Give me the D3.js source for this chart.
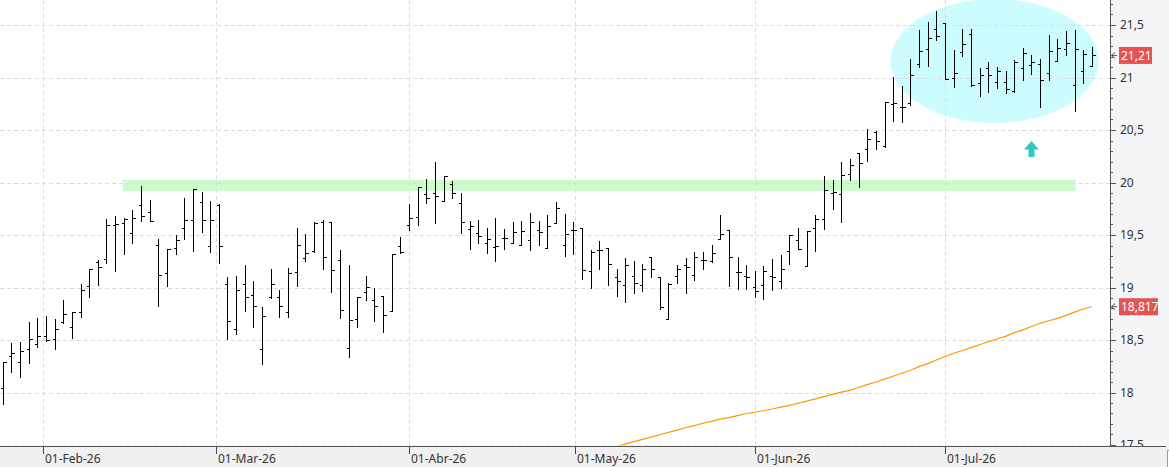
<!DOCTYPE html>
<html><head><meta charset="utf-8">
<script src="https://cdn.jsdelivr.net/npm/d3@7/dist/d3.min.js"></script>
<style>
html,body{margin:0;padding:0;background:#fff;}
svg{display:block;font-family:"Noto Sans","Segoe UI",sans-serif;}
</style></head>
<body>
<svg id="chart" width="1169" height="467"></svg>
<script>
// ---- data ----
const firstDay = "2026-01-26";
const holidays = ["2026-04-03","2026-04-06","2026-05-01"];
const barCount = 127;
const openVals = [18.04,18.348,18.287,18.411,18.462,18.538,18.506,18.668,18.624,18.763,
19.011,19.24,19.268,19.595,19.614,19.519,19.786,19.716,19.402,19.135,
19.373,19.563,19.64,19.814,19.392,19.789,19.03,18.602,19.03,18.925,
18.411,18.909,18.909,18.763,19.148,19.278,19.348,19.627,19.621,19.262,
18.421,18.697,18.954,18.878,18.919,18.779,19.395,19.595,19.668,19.89,
19.9,19.827,19.982,19.802,19.554,19.522,19.427,19.383,19.471,19.424,
19.405,19.449,19.544,19.373,19.611,19.405,19.544,19.563,19.157,19.357,
19.376,19.097,19.024,19.11,19.024,19.287,19.097,18.697,19.11,19.217,
19.116,19.262,19.255,19.459,19.544,19.144,19.106,19.002,19.024,19.106,
19.062,19.348,19.449,19.208,19.563,19.649,19.897,19.89,20.081,20.278,
20.316,20.484,20.351,20.744,20.716,20.76,21.125,21.268,21.459,21.522,
20.992,21.24,21.411,20.944,21.087,20.957,20.957,20.875,21.087,21.116,
21.129,21.043,21.154,21.271,20.925,21.062,21.106];
const highVals = [18.288,18.468,18.481,18.668,18.709,18.728,18.70,18.881,18.763,19.033,
19.173,19.262,19.652,19.681,19.659,19.738,19.967,19.833,19.462,19.367,
19.50,19.852,19.935,19.906,19.821,19.792,19.097,19.11,19.211,19.062,
18.814,19.176,18.976,19.186,19.567,19.509,19.621,19.64,19.621,19.357,
19.214,18.909,19.11,19.0,18.919,19.316,19.481,19.795,19.96,20.03,
20.195,20.062,20.014,19.897,19.633,19.643,19.57,19.662,19.557,19.624,
19.63,19.706,19.63,19.69,19.814,19.703,19.624,19.563,19.357,19.44,
19.376,19.176,19.278,19.252,19.227,19.287,19.097,19.046,19.214,19.278,
19.338,19.338,19.402,19.69,19.544,19.294,19.211,19.16,19.208,19.268,
19.31,19.497,19.567,19.541,19.69,20.062,20.024,20.192,20.221,20.278,
20.51,20.494,20.763,21.002,20.919,21.173,21.452,21.525,21.633,21.522,
21.262,21.462,21.459,21.09,21.144,21.10,21.062,21.163,21.278,21.211,
21.176,21.405,21.367,21.44,21.452,21.262,21.29];
const lowVals = [17.89,18.198,18.144,18.278,18.437,18.494,18.417,18.665,18.522,18.722,
18.913,19.024,19.236,19.16,19.319,19.427,19.636,19.636,18.827,19.014,
19.319,19.465,19.351,19.532,19.341,19.236,18.513,18.554,18.779,18.627,
18.275,18.897,18.722,18.719,19.014,19.256,19.341,19.179,18.96,18.713,
18.341,18.627,18.884,18.684,18.579,18.773,19.325,19.548,19.595,19.802,
19.611,19.827,19.855,19.522,19.367,19.421,19.325,19.256,19.37,19.421,
19.402,19.357,19.408,19.373,19.611,19.30,19.322,19.078,18.998,19.173,
19.027,18.922,18.865,18.944,18.97,19.103,18.798,18.697,19.046,18.951,
19.071,19.173,19.246,19.459,19.017,18.982,18.986,18.906,18.887,18.976,
18.998,19.224,19.363,19.208,19.351,19.554,19.751,19.627,20.024,19.96,
20.205,20.322,20.341,20.589,20.579,20.741,21.103,21.113,21.357,20.989,
20.913,21.208,20.916,20.827,20.862,20.897,20.855,20.862,20.979,21.033,
20.722,20.973,21.154,21.214,20.678,20.944,21.106];
const closeVals = [18.288,18.376,18.392,18.506,18.538,18.503,18.601,18.744,18.763,18.976,
19.173,19.192,19.595,19.602,19.652,19.659,19.681,19.636,19.116,19.367,
19.452,19.64,19.935,19.64,19.64,19.392,18.678,18.976,18.909,18.824,
18.728,19.03,18.821,19.135,19.402,19.332,19.611,19.287,19.167,18.783,
18.687,18.909,19.005,18.824,18.735,19.316,19.335,19.659,19.954,19.849,
19.871,20.062,19.903,19.621,19.586,19.49,19.462,19.395,19.471,19.529,
19.541,19.624,19.529,19.586,19.757,19.506,19.548,19.167,19.335,19.357,
19.221,19.059,19.211,19.043,19.176,19.176,18.814,19.03,19.176,19.198,
19.287,19.262,19.329,19.513,19.287,19.144,19.10,18.97,19.16,19.097,
19.173,19.497,19.363,19.535,19.649,19.925,19.906,20.071,20.167,20.183,
20.414,20.398,20.763,20.754,20.716,21.021,21.249,21.379,21.395,20.989,
21.043,21.319,20.925,21.021,21.021,21.059,20.89,21.148,21.236,21.148,
20.973,21.249,21.278,21.325,21.271,21.221,21.21];
// moving average, first value belongs to bar index maStart
const maStart = 70;
const maVals = [17.47,17.485,17.508,17.532,17.554,17.575,17.598,17.62,17.642,17.664,
17.685,17.707,17.725,17.746,17.76,17.78,17.8,17.812,17.826,17.843,
17.86,17.878,17.898,17.918,17.939,17.96,17.982,18.004,18.02,18.048,
18.075,18.1,18.128,18.155,18.183,18.212,18.246,18.275,18.309,18.343,
18.374,18.4,18.428,18.455,18.483,18.51,18.535,18.57,18.597,18.628,
18.659,18.683,18.706,18.734,18.766,18.795,18.817];
const monthTicks = ["2026-02-01","2026-03-01","2026-04-01","2026-05-01","2026-06-01","2026-07-01"];
const monthLabels = ["01-Feb-26","01-Mar-26","01-Abr-26","01-May-26","01-Jun-26","01-Jul-26"];
const yTickVals = [17.5,18,18.5,19,19.5,20,20.5,21,21.5];
const yTickLabels = ["17,5","18","18,5","19","19,5","20","20,5","21","21,5"];
const lastClose = 21.21, lastCloseLabel = "21,21";
const lastMA = 18.817, lastMALabel = "18,817";
const supportLevel = [19.92, 20.025];

// ---- trading calendar ----
const parse = d3.utcParse("%Y-%m-%d");
const fmt = d3.utcFormat("%Y-%m-%d");
const dates = [];
let d = parse(firstDay);
while (dates.length < barCount) {
  const wd = d.getUTCDay();
  if (wd !== 0 && wd !== 6 && !holidays.includes(fmt(d))) dates.push(new Date(d));
  d = d3.utcDay.offset(d, 1);
}
function datePos(m) {
  const t = parse(m);
  let b = dates.findIndex(x => x >= t);
  if (b <= 0) return b;
  if (+dates[b] === +t) return b;
  const a = b - 1;
  return a + (t - dates[a]) / (dates[b] - dates[a]);
}

// ---- layout ----
const W = 1169, H = 467;
const plotR = 1110, plotB = 445;
const svg = d3.select("#chart");
const x = d3.scaleLinear().domain([0, barCount - 1]).range([2.7, 1092]);
const y = d3.scaleLinear().domain([17.5, 21.5]).range([445, 25]);

svg.append("rect").attr("x",0).attr("y",0).attr("width",W).attr("height",H).attr("fill","#fff");
svg.append("rect").attr("x",plotR).attr("y",0).attr("width",W-plotR).attr("height",H).attr("fill","#f4f5f7");
svg.append("defs").append("clipPath").attr("id","clip")
  .append("rect").attr("x",0).attr("y",0).attr("width",plotR).attr("height",plotB+0.5);

const plot = svg.append("g").attr("clip-path","url(#clip)");

// support band
plot.append("rect")
  .attr("x", x(13.9)).attr("width", x(124.1) - x(13.9))
  .attr("y", y(supportLevel[1])).attr("height", y(supportLevel[0]) - y(supportLevel[1]))
  .attr("fill", "#ccfccc");
// ellipse highlight
plot.append("ellipse")
  .attr("cx", (x(103) + x(126)) / 2 + 2).attr("cy", 61)
  .attr("rx", 104).attr("ry", 62)
  .attr("fill", "#ccfcfd");
// arrow
const ax = x(119);
plot.append("path")
  .attr("d", `M${ax},141 L${ax+7.5},149.5 L${ax+3},149.5 L${ax+3},157 L${ax-3},157 L${ax-3},149.5 L${ax-7.5},149.5 Z`)
  .attr("fill", "#33c8c8");

// grid
const gridY = d3.range(17.5, 21.51, 0.5);
plot.selectAll(".gy").data(gridY).enter().append("line")
  .attr("x1", 0).attr("x2", plotR)
  .attr("y1", v => Math.round(y(v)) + 0.5).attr("y2", v => Math.round(y(v)) + 0.5)
  .attr("stroke", "#dcdcdc").attr("stroke-dasharray", "4,3");
const tickPos = monthTicks.map(datePos);
plot.selectAll(".gx").data(tickPos).enter().append("line")
  .attr("y1", 0).attr("y2", plotB)
  .attr("x1", p => Math.round(x(p)) + 0.5).attr("x2", p => Math.round(x(p)) + 0.5)
  .attr("stroke", "#dcdcdc").attr("stroke-dasharray", "4,3");

// moving average
const maData = maVals.map((v, k) => [maStart + k, v]);
plot.append("path")
  .datum(maData)
  .attr("d", d3.line().x(p => x(p[0])).y(p => y(p[1])))
  .attr("fill", "none").attr("stroke", "#ff9800").attr("stroke-width", 1.2);

// OHLC bars
const bars = plot.append("g").attr("stroke", "#000").attr("stroke-width", 1).attr("shape-rendering", "crispEdges");
for (let i = 0; i < barCount; i++) {
  const cx = Math.round(x(i)) + 0.5;
  bars.append("line").attr("x1", cx).attr("x2", cx)
    .attr("y1", Math.round(y(highVals[i]))).attr("y2", Math.round(y(lowVals[i])) + 1);
  const oy = Math.round(y(openVals[i])) + 0.5, cy = Math.round(y(closeVals[i])) + 0.5;
  bars.append("line").attr("x1", cx - 3).attr("x2", cx).attr("y1", oy).attr("y2", oy);
  bars.append("line").attr("x1", cx).attr("x2", cx + 3).attr("y1", cy).attr("y2", cy);
}

// right axis
svg.append("line").attr("x1", plotR + 0.5).attr("x2", plotR + 0.5).attr("y1", 0).attr("y2", plotB + 1)
  .attr("stroke", "#555");
const minor = d3.range(175, 218, 1).map(v => v / 10);
svg.selectAll(".mt").data(minor).enter().append("line")
  .attr("x1", plotR).attr("x2", v => plotR + (Math.abs(v * 2 - Math.round(v * 2)) < 1e-6 ? 6 : 3))
  .attr("y1", v => Math.round(y(v)) + 0.5).attr("y2", v => Math.round(y(v)) + 0.5)
  .attr("stroke", "#555");
svg.selectAll(".yl").data(yTickVals).enter().append("text")
  .attr("x", 1120).attr("y", v => y(v)).attr("dy", "0.35em")
  .attr("font-size", 12).attr("fill", "#333")
  .text((v, k) => yTickLabels[k]);

// value flags
function flag(v, label, w) {
  const yy = y(v);
  svg.append("rect").attr("x", 1119).attr("y", yy - 8.5).attr("width", w).attr("height", 17)
    .attr("fill", "#e35555");
  svg.append("text").attr("x", 1121).attr("y", yy).attr("dy", "0.36em")
    .attr("font-size", 12).attr("fill", "#fff").text(label);
  svg.append("path").attr("d", `M${plotR+5},${yy-3} L${plotR+1.5},${yy} L${plotR+5},${yy+3} M${plotR+1.5},${yy} L${plotR+7},${yy}`)
    .attr("fill", "none").attr("stroke", "#555").attr("stroke-width", 1);
}
flag(lastClose, lastCloseLabel, 33);
flag(lastMA, lastMALabel, 39);

// bottom axis area
svg.append("rect").attr("x", 0).attr("y", plotB + 1).attr("width", W).attr("height", H - plotB - 1).attr("fill", "#f0f0f0");
svg.append("line").attr("x1", 0).attr("x2", 1166).attr("y1", plotB + 1.5).attr("y2", plotB + 1.5).attr("stroke", "#555");
svg.selectAll(".xt").data(tickPos).enter().append("line")
  .attr("x1", p => Math.round(x(p)) + 0.5).attr("x2", p => Math.round(x(p)) + 0.5)
  .attr("y1", plotB + 1).attr("y2", plotB + 9).attr("stroke", "#444");
svg.selectAll(".xl").data(tickPos).enter().append("text")
  .attr("x", p => Math.round(x(p)) + 2).attr("y", 463)
  .attr("font-size", 12).attr("fill", "#333")
  .text((p, k) => monthLabels[k]);
svg.append("rect").attr("x", 1167.5).attr("y", 450.5).attr("width", 4).attr("height", 18)
  .attr("fill", "#fff").attr("stroke", "#999");
</script>
</body></html>
